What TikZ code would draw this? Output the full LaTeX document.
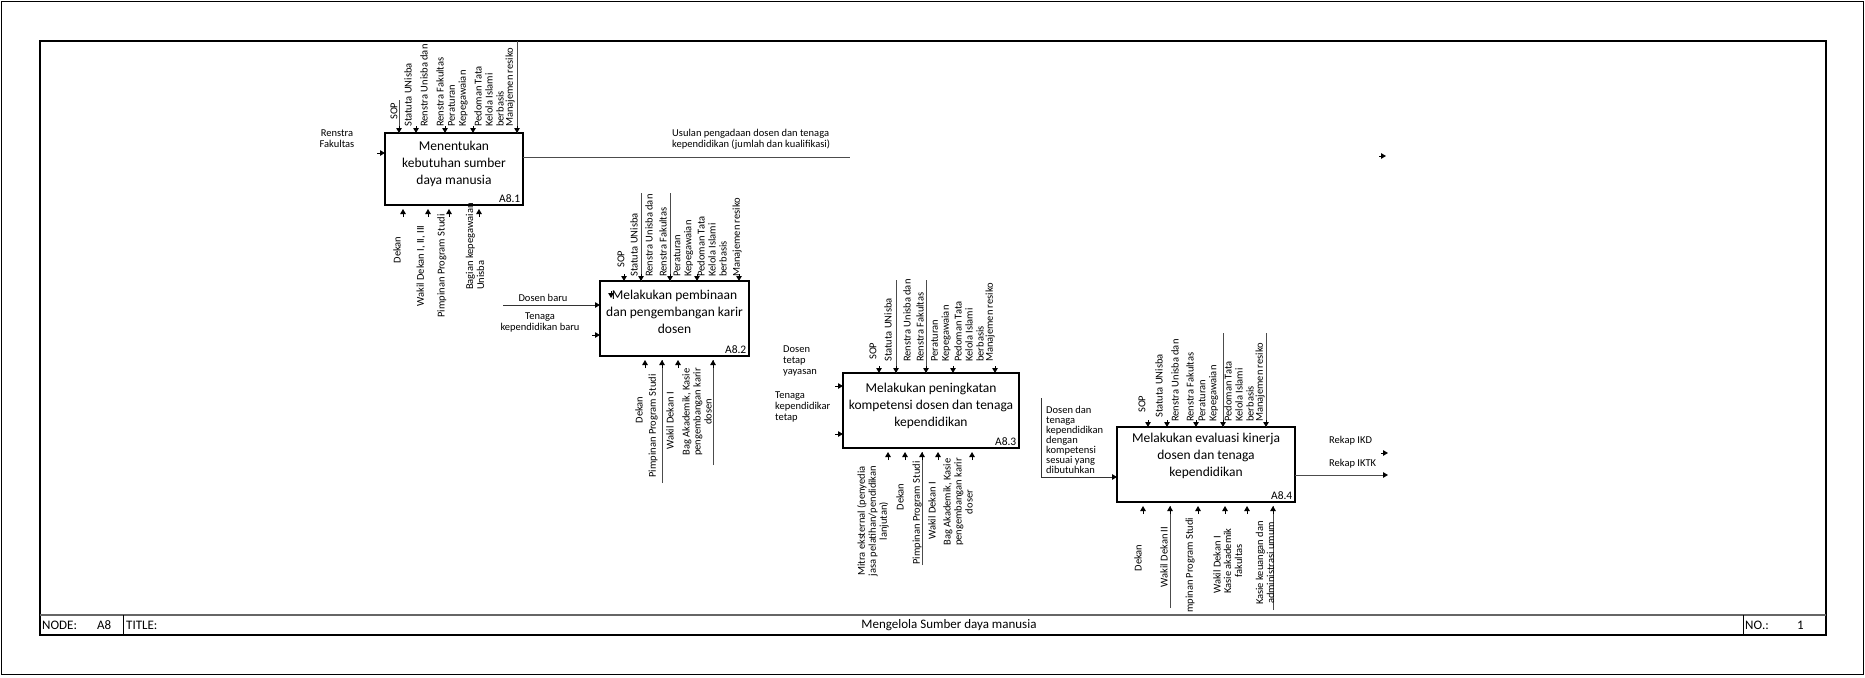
\documentclass[tikz,border=0pt]{standalone}
\usepackage{fontspec}
\setmainfont{Carlito}
\usetikzlibrary{arrows.meta, calc}
\tikzset{
	act/.style={draw, line width=1.6pt, inner sep=0pt, outer sep=0pt},
	acttext/.style={align=center, font=\fontsize{13.5}{17}\selectfont},
	actno/.style={anchor=south east, inner sep=2.5pt, font=\fontsize{11.5}{12}\selectfont},
	lbl/.style={inner sep=0pt, font=\fontsize{10.5}{11}\selectfont},
	vlbl/.style={lbl, rotate=90, align=left, anchor=west},
	mlbl/.style={lbl, rotate=90, align=center},
	flow/.style={draw=black!70, line width=1pt},
	arr/.style={line width=1pt, -{Triangle[length=5pt,width=5.5pt,color=black]}},
	bar/.style={inner sep=0pt, font=\fontsize{13}{14}\selectfont}
}

\begin{document}
\begin{tikzpicture}[x=1pt, y=-1pt]
\useasboundingbox (0,0) rectangle (1865,677);

% Draw frames
\draw[line width=1.5pt] (1.5,1.5) rectangle (1863.5,674.5);
\draw[line width=1.3pt] (40,41) rectangle (1826,635);
\draw[line width=1.3pt, black!60] (40,615) -- (1826,615);
\draw[line width=1pt] (123,615) -- (123,635) (1743,615) -- (1743,635);
\node[bar, anchor=west] (nodelbl) at (42,625) {NODE:};
\node[bar, anchor=west] (nodeno) at (97,625) {A8};
\node[bar, anchor=west] (titlelbl) at (126,625) {TITLE:};
\node[bar] (title) at (949,625) {Mengelola Sumber daya manusia};
\node[bar, anchor=west] (nolbl) at (1745,625) {NO.:};
\node[bar, anchor=west] (nonum) at (1797,625) {1};

\begin{scope}
\clip (40,41) rectangle (1826,615);

% Draw activities
\node[act, minimum width=138pt, minimum height=72pt] (a81) at (454,169) {};
\node[act, minimum width=149pt, minimum height=75pt] (a82) at (674.5,318.5) {};
\node[act, minimum width=176pt, minimum height=75pt] (a83) at (931,410.5) {};
\node[act, minimum width=178pt, minimum height=75pt] (a84) at (1206,464.5) {};
\node[acttext] (t81) at ([yshift=5pt]a81.center) {Menentukan\\kebutuhan sumber\\daya manusia};
\node[acttext] (t82) at ([yshift=7pt]a82.center) {Melakukan pembinaan\\dan pengembangan karir\\dosen};
\node[acttext] (t83) at ([yshift=5pt]a83.center) {Melakukan peningkatan\\kompetensi dosen dan tenaga\\kependidikan};
\node[acttext] (t84) at ([yshift=9pt]a84.center) {Melakukan evaluasi kinerja\\dosen dan tenaga\\kependidikan};
\node[actno] (n81) at (a81.south east) {A8.1};
\node[actno] (n82) at (a82.south east) {A8.2};
\node[actno] (n83) at (a83.south east) {A8.3};
\node[actno] (n84) at (a84.south east) {A8.4};

% A8.1
\draw[arr] ([xshift=-8pt,yshift=-20pt]a81.north west) -- ([yshift=-20pt]a81.north west);
\node[lbl, align=center] (l81i) at (337,139) {Renstra\\Fakultas};
\coordinate (c81a) at (399,100);
\coordinate (c81b) at (517,41);
\draw[flow] (c81a) -- ([xshift=14pt]a81.north west);
\draw[flow] (c81b) -- ([xshift=132pt]a81.north west);
\foreach \dx in {14,31,60,88,132}
	\draw[arr] ([xshift=\dx pt,yshift=7pt]a81.north west) -- ([xshift=\dx pt]a81.north west);
\foreach \x/\y/\t [count=\i] in {394/120/{SOP}, 408/127/{Statuta UNisba}, 424/127/{Renstra Unisba dan}, 440/127/{Renstra Fakultas}, 458/127/{Peraturan\\Kepegawaian}, 489/127/{Pedoman Tata\\Kelola Islami\\berbasis}, 510/127/{Manajemen resiko}}
	\node[vlbl] (l81c\i) at (\x,\y) {\t};
\foreach \dx in {18,43,64,94}
	\draw[arr] ([xshift=\dx pt,yshift=-12pt]a81.south west) -- ([xshift=\dx pt,yshift=-4pt]a81.south west);
\node[mlbl] (l81m1) at (397,250) {Dekan};
\node[mlbl] (l81m2) at (421,266) {Wakil Dekan I, II, III};
\node[mlbl] (l81m3) at (442,266) {Pimpinan Program Studi};
\node[vlbl] (l81m4) at (475,290) {Bagian kepegawaian\\Unisba};
\coordinate (o81) at (850,157);
\coordinate (o81tip) at (1386,156);
\draw[flow] ([yshift=-24pt]a81.north east) -- (o81);
\draw[arr] ([xshift=-7pt]o81tip) -- (o81tip);
\node[lbl, anchor=north west, align=left] (l81o) at (672,129) {Usulan pengadaan dosen dan tenaga\\kependidikan (jumlah dan kualifikasi)};

% A8.2
\coordinate (i82) at (503,305);
\draw[arr, draw=black!80] (i82) -- ([yshift=-24pt]a82.north west);
\draw[arr] ([xshift=-8pt,yshift=-54pt]a82.north west) -- ([yshift=-54pt]a82.north west);
\draw[arr] ([xshift=11pt,yshift=-10pt]a82.north west) -- ([xshift=11pt,yshift=-17pt]a82.north west);
\node[lbl] (l82i1) at (543,298) {Dosen baru};
\node[lbl, align=center] (l82i2) at (540,322) {Tenaga\\kependidikan baru};
\coordinate (c82a) at (641,193);
\coordinate (c82b) at (670,193);
\draw[flow] (c82a) -- ([xshift=41pt]a82.north west);
\draw[flow] (c82b) -- ([xshift=70pt]a82.north west);
\foreach \dx in {24,41,70,97,139}
	\draw[arr] ([xshift=\dx pt,yshift=7pt]a82.north west) -- ([xshift=\dx pt]a82.north west);
\foreach \x/\y/\t [count=\i] in {621/268/{SOP}, 634/277/{Statuta UNisba}, 649/277/{Renstra Unisba dan}, 663/277/{Renstra Fakultas}, 683.5/277/{Peraturan\\Kepegawaian}, 712/277/{Pedoman Tata\\Kelola Islami\\berbasis}, 737/277/{Manajemen resiko}}
	\node[vlbl] (l82c\i) at (\x,\y) {\t};
\coordinate (m82a) at (662,483);
\coordinate (m82b) at (713,465);
\draw[flow] (m82a) -- ([xshift=62pt,yshift=-4pt]a82.south west);
\draw[flow] (m82b) -- ([xshift=113pt,yshift=-4pt]a82.south west);
\foreach \dx in {45,62,78,113}
	\draw[arr] ([xshift=\dx pt,yshift=-12pt]a82.south west) -- ([xshift=\dx pt,yshift=-4pt]a82.south west);
\node[mlbl] (l82m1) at (639,410) {Dekan};
\node[mlbl] (l82m2) at (653,426) {Pimpinan Program Studi};
\node[mlbl] (l82m3) at (670,421) {Wakil Dekan I};
\node[mlbl] (l82m4) at (697,412) {Bag Akademik, Kasie\\pengembangan karir\\dosen};

% A8.3
\draw[arr] ([xshift=-8pt,yshift=-13pt]a83.north west) -- ([yshift=-13pt]a83.north west);
\draw[arr] ([xshift=-8pt,yshift=-61pt]a83.north west) -- ([yshift=-61pt]a83.north west);
\node[lbl, anchor=north west, align=left] (l83i1) at (783,346) {Dosen\\tetap\\yayasan};
\node[lbl, anchor=north west, align=left] (l83i2) at (775,392) {Tenaga\\kependidikar\\tetap};
\coordinate (c83a) at (896,280);
\coordinate (c83b) at (926,280);
\draw[flow] (c83a) -- ([xshift=53pt]a83.north west);
\draw[flow] (c83b) -- ([xshift=83pt]a83.north west);
\foreach \dx in {36,53,83,110,152}
	\draw[arr] ([xshift=\dx pt,yshift=7pt]a83.north west) -- ([xshift=\dx pt]a83.north west);
\foreach \x/\y/\t [count=\i] in {873/360/{SOP}, 888/362/{Statuta UNisba}, 907/362/{Renstra Unisba dan}, 920/362/{Renstra Fakultas}, 941/362/{Peraturan\\Kepegawaian}, 969/362/{Pedoman Tata\\Kelola Islami\\berbasis}, 990/362/{Manajemen resiko}}
	\node[vlbl] (l83c\i) at (\x,\y) {\t};
\coordinate (m83a) at (922,565);
\draw[flow] (m83a) -- ([xshift=79pt,yshift=-4pt]a83.south west);
\foreach \dx in {45,62,79,95,129}
	\draw[arr] ([xshift=\dx pt,yshift=-12pt]a83.south west) -- ([xshift=\dx pt,yshift=-4pt]a83.south west);
\node[mlbl] (l83m1) at (873,521) {Mitra eksternal (penyedia\\jasa pelatihan/pendidikan\\lanjutan)};
\node[mlbl] (l83m2) at (900,497) {Dekan};
\node[mlbl] (l83m3) at (917,513) {Pimpinan Program Studi};
\node[mlbl] (l83m4) at (932,511) {Wakil Dekan I};
\node[mlbl] (l83m5) at (958,502) {Bag Akademik, Kasie\\pengembangan karir\\doser};

% A8.4
\coordinate (i84) at (1041,398);
\draw[arr, draw=black!80] (i84) |- ([yshift=-50pt]a84.north west);
\node[lbl, anchor=north west, align=left, font=\fontsize{10.5}{10}\selectfont] (l84i) at (1046,406) {Dosen dan\\tenaga\\kependidikan\\dengan\\kompetensi\\sesuai yang\\dibutuhkan};
\coordinate (c84a) at (1223,333);
\coordinate (c84b) at (1266,333);
\draw[flow] (c84a) -- ([xshift=106pt]a84.north west);
\draw[flow] (c84b) -- ([xshift=149pt]a84.north west);
\foreach \dx in {31,50,79,106,149}
	\draw[arr] ([xshift=\dx pt,yshift=7pt]a84.north west) -- ([xshift=\dx pt]a84.north west);
\foreach \x/\y/\t [count=\i] in {1142/413/{SOP}, 1159/418/{Statuta UNisba}, 1175/422/{Renstra Unisba dan}, 1190/422/{Renstra Fakultas}, 1208.5/422/{Peraturan\\Kepegawaian}, 1239/422/{Pedoman Tata\\Kelola Islami\\berbasis}, 1260/422/{Manajemen resiko}}
	\node[vlbl] (l84c\i) at (\x,\y) {\t};
\coordinate (m84a) at (1170,608);
\coordinate (m84b) at (1273,610);
\draw[flow] (m84a) -- ([xshift=53pt,yshift=-4pt]a84.south west);
\draw[flow] (m84b) -- ([xshift=156pt,yshift=-4pt]a84.south west);
\foreach \dx in {26,53,81,108,130,156}
	\draw[arr] ([xshift=\dx pt,yshift=-12pt]a84.south west) -- ([xshift=\dx pt,yshift=-4pt]a84.south west);
\node[mlbl] (l84m1) at (1138,558) {Dekan};
\node[mlbl] (l84m2) at (1164,557) {Wakil Dekan II};
\node[vlbl] (l84m3) at (1190,613) {mpinan Program Studi};
\node[mlbl] (l84m4) at (1217,565) {Wakil Dekan I};
\node[mlbl] (l84m5) at (1233,561) {Kasie akademik\\fakultas};
\node[mlbl] (l84m6) at (1265,563) {Kasie keuangan dan\\administrasi umum};
\coordinate (o84) at (1388,475);
\coordinate (o84tip) at (1388,453);
\draw[arr, draw=black!70] ([yshift=-48pt]a84.north east) -- (o84);
\draw[arr] ([xshift=-7pt]o84tip) -- (o84tip);
\node[lbl, anchor=west] (l84o1) at (1329,441) {Rekap IKD};
\node[lbl, anchor=west] (l84o2) at (1329,464) {Rekap IKTK};
\end{scope}
\end{tikzpicture}
\end{document}
